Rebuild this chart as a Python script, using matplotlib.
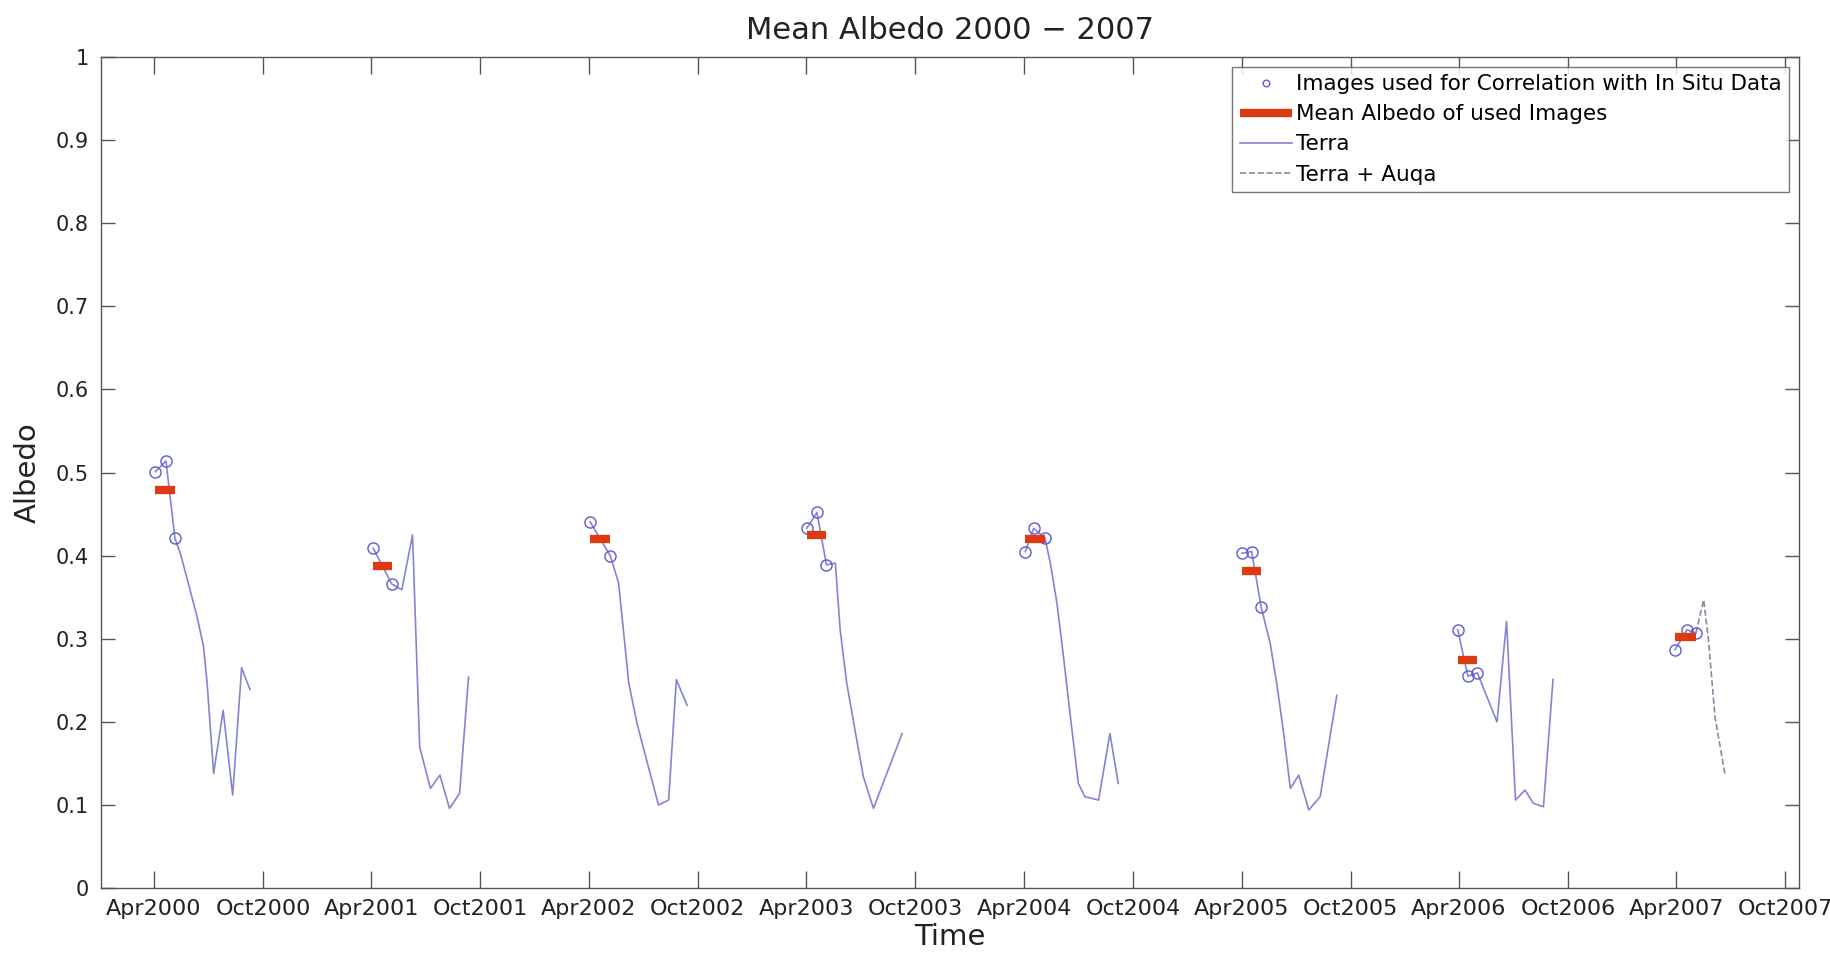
import numpy as np
import matplotlib
matplotlib.use('Agg')
import matplotlib.pyplot as plt
import matplotlib.dates as mdates
from matplotlib.ticker import FixedLocator, FuncFormatter
from datetime import datetime

# all days are counted from 2000-01-01, NaN separates the seasons
terra_day = [93, 111, 126, 135, 147, 163, 174, 180, 191, 207, 223, 238, 252, np.nan,
             459, 490, 507, 525, 537, 555, 571, 587, 604, 619, np.nan,
             823, 857, 871, 879, 888, 902, 921, 938, 955, 968, 986, np.nan,
             1187, 1204, 1220, 1235, 1243, 1254, 1268, 1282, 1299, 1347, np.nan,
             1554, 1568, 1587, 1596, 1607, 1618, 1629, 1643, 1654, 1677, 1696, 1710, np.nan,
             1918, 1934, 1950, 1965, 1976, 1987, 1999, 2013, 2030, 2049, 2077, np.nan,
             2280, 2297, 2313, 2346, 2362, 2377, 2393, 2407, 2424, 2440, np.nan,
             2645, 2665, 2680]
terra_albedo = [0.501, 0.514, 0.421, 0.403, 0.371, 0.327, 0.291, 0.247, 0.138, 0.214, 0.112, 0.265, 0.239, np.nan,
                0.409, 0.366, 0.359, 0.425, 0.170, 0.120, 0.136, 0.096, 0.114, 0.254, np.nan,
                0.441, 0.400, 0.367, 0.311, 0.247, 0.198, 0.146, 0.100, 0.106, 0.251, 0.220, np.nan,
                0.433, 0.452, 0.389, 0.391, 0.311, 0.247, 0.190, 0.134, 0.096, 0.186, np.nan,
                0.405, 0.433, 0.421, 0.391, 0.343, 0.279, 0.210, 0.126, 0.110, 0.106, 0.186, 0.126, np.nan,
                0.403, 0.405, 0.338, 0.295, 0.247, 0.190, 0.120, 0.136, 0.094, 0.110, 0.232, np.nan,
                0.311, 0.255, 0.259, 0.200, 0.321, 0.106, 0.118, 0.102, 0.098, 0.251, np.nan,
                0.287, 0.311, 0.307]

aqua_day = [2680, 2693, 2701, 2712, 2729]
aqua_albedo = [0.307, 0.347, 0.299, 0.206, 0.136]

# images used for correlation with in situ data
img_day = [93, 111, 126, 459, 490, 823, 857, 1187, 1204, 1220,
           1554, 1568, 1587, 1918, 1934, 1950, 2280, 2297, 2313, 2645, 2665, 2680]
img_albedo = [0.501, 0.514, 0.421, 0.409, 0.366, 0.441, 0.400, 0.433, 0.452, 0.389,
              0.405, 0.433, 0.421, 0.403, 0.405, 0.338, 0.311, 0.255, 0.259, 0.287, 0.311, 0.307]

years = list(range(2000, 2008))
y_ticks = [0, 0.1, 0.2, 0.3, 0.4, 0.5, 0.6, 0.7, 0.8, 0.9, 1]

base = mdates.date2num(datetime(2000, 1, 1))
def to_num(days):
    return base + np.asarray(days, dtype=float)

plt.rcParams['font.family'] = ['DejaVu Sans']
fig = plt.figure(figsize=(18.31, 9.55), dpi=100)
ax = fig.add_axes([0.0552, 0.070, 0.9273, 0.8703])

ax.plot(to_num(img_day), img_albedo, 'o', ms=8, mfc='none', mec='#5a5ad8', mew=1.0,
        label='Images used for Correlation with In Situ Data', zorder=4)

# mean of the used images per year, drawn from first to last image date
img_day_a = np.array(img_day)
img_alb_a = np.array(img_albedo)
img_year = (2000 + np.floor(img_day_a / 365.25)).astype(int)
first = True
for yr in sorted(set(img_year)):
    sel = img_year == yr
    m = img_alb_a[sel].mean()
    ax.plot(to_num([img_day_a[sel].min(), img_day_a[sel].max()]), [m, m], '-',
            color='#dd3a12', lw=6, solid_capstyle='butt', zorder=5,
            label='Mean Albedo of used Images' if first else None)
    first = False

ax.plot(to_num(terra_day), terra_albedo, '-', color='#8484d4', lw=1.2, label='Terra', zorder=3)
ax.plot(to_num(aqua_day), aqua_albedo, '--', color='#8a8aa8', lw=1.2, label='Terra + Auqa', zorder=3)

ax.set_xlim(to_num(2), to_num(2853))
ax.set_ylim(0, 1)

xt = []
for yr in years:
    xt.append(mdates.date2num(datetime(yr, 4, 1)))
    xt.append(mdates.date2num(datetime(yr, 10, 1)))
ax.xaxis.set_major_locator(FixedLocator(xt))
ax.xaxis.set_major_formatter(mdates.DateFormatter('%b%Y'))
ax.yaxis.set_major_locator(FixedLocator(y_ticks))
ax.yaxis.set_major_formatter(FuncFormatter(lambda v, p: '%g' % v))

ax.tick_params(axis='both', direction='in', top=True, right=True, colors='#555555',
               labelcolor='#222222', labelsize=15, width=1)
ax.tick_params(axis='x', length=12, pad=8, labelsize=16)
ax.tick_params(axis='y', length=10, pad=9)
for s in ax.spines.values():
    s.set_color('#555555')
    s.set_linewidth(1)

ax.set_title('Mean Albedo 2000 − 2007', fontsize=22, color='#222222', pad=13)
ax.set_xlabel('Time', fontsize=21, color='#222222', labelpad=3)
ax.set_ylabel('Albedo', fontsize=21, color='#222222', labelpad=10)

leg = ax.legend(loc='upper right', fontsize=15.5, frameon=True, fancybox=False,
                edgecolor='#555555', borderaxespad=0.45, handlelength=2.4,
                handletextpad=0.2, labelspacing=0.47, borderpad=0.35, markerscale=0.6)
leg.get_frame().set_linewidth(1)

fig.savefig('out.png', dpi=100)
